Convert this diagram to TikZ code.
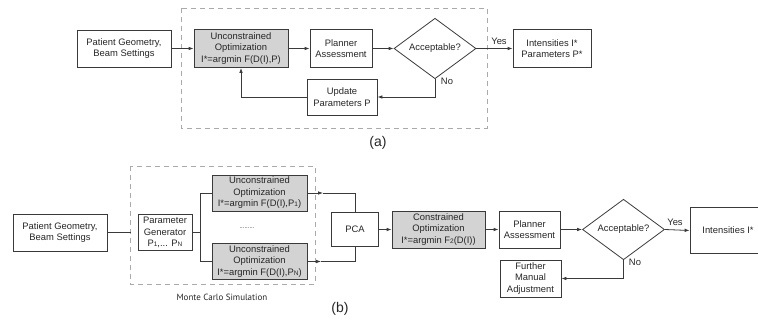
\documentclass[tikz,border=0pt]{standalone}
\usepackage{fontspec}
\setmainfont{Liberation Sans}
\newfontfamily\mcfont{PT Sans}
\usetikzlibrary{arrows.meta,shapes.geometric}
\definecolor{linec}{HTML}{3A3A3A}
\definecolor{boxfill}{HTML}{D3D3D3}
\definecolor{dashc}{HTML}{AAAAAA}
\newcommand\smsub[1]{{\fontsize{6.5}{6.5}\selectfont #1}}
\begin{document}
\begin{tikzpicture}[x=1pt,y=-1pt,
  font=\fontsize{9.4}{11.5}\selectfont,
  box/.style={draw=linec, line width=0.8pt, inner sep=0pt, align=center, text=black!85},
  gbox/.style={box, fill=boxfill},
  dia/.style={draw=linec, line width=0.8pt, diamond, inner sep=0pt, minimum width=82pt, minimum height=50pt, text=black!85},
  conn/.style={draw=linec, line width=0.8pt},
  arr/.style={conn, -{Latex[length=5pt,width=3.6pt]}},
  dashbox/.style={draw=dashc, line width=0.8pt, dash pattern=on 5pt off 4pt},
  lbl/.style={inner sep=0pt, text=black!85},
  captxt/.style={inner sep=0pt, font=\fontsize{14}{16}\selectfont, text=black!85}]
\useasboundingbox (0,0) rectangle (758,321);
\clip (0,0) rectangle (758,321);

% ---------------- (a) ----------------
\draw[dashbox] (181,8) rectangle (487,128);
\node[box, minimum width=94pt, minimum height=37pt] (pa) at (124,48.5) {Patient Geometry,\\Beam Settings};
\node[gbox, minimum width=94pt, minimum height=38pt] (ua) at (241,48.5) {Unconstrained\\Optimization\\I*=argmin F(D(I),P)};
\node[box, minimum width=62pt, minimum height=38pt] (pla) at (341,48.5) {Planner\\Assessment};
\node[dia] (da) at (435,48.5) {Acceptable?};
\node[box, minimum width=78pt, minimum height=38pt] (ia) at (552,48.5) {Intensities I*\\Parameters P*};
\node[box, minimum width=70pt, minimum height=36pt] (upa) at (342,97) {Update\\Parameters P};
\node[lbl] (yesa) at (499,41) {Yes};
\node[lbl] (noa) at (447,81) {No};
\node[captxt] (capa) at (378,143) {(a)};

\draw[arr] (pa.east) -- (ua.west);
\draw[arr] (ua.east) -- (pla.west);
\draw[arr] (pla.east) -- (da.west);
\draw[arr] (da.east) -- (ia.west);
\draw[arr] (da.south) |- (upa.east);
\draw[arr] (upa.west) -| (ua.south);

% ---------------- (b) ----------------
\draw[dashbox] (130,166) rectangle (315,284);
\node[box, minimum width=94pt, minimum height=37pt] (pb) at (60,232.5) {Patient Geometry,\\Beam Settings};
\node[box, minimum width=54pt, minimum height=36pt] (pg) at (165,232.5) {Parameter\\Generator\\P\smsub{1},... P\smsub{N}};
\node[gbox, minimum width=95pt, minimum height=36pt] (t1) at (259.5,193) {Unconstrained\\Optimization\\I*=argmin F(D(I),P\smsub{1})};
\node[gbox, minimum width=95pt, minimum height=36pt] (t2) at (259.5,261.5) {Unconstrained\\Optimization\\I*=argmin F(D(I),P\smsub{N})};
\node[lbl] (dots) at (247,228) {\fontsize{6}{6}\selectfont .........};
\node[lbl, font=\mcfont\fontsize{9}{10}\selectfont] (mc) at (222,297) {Monte Carlo Simulation};
\node[box, minimum width=47pt, minimum height=34pt] (pca) at (355,229.5) {PCA};
\node[gbox, minimum width=93pt, minimum height=37pt] (co) at (438.5,229.5) {Constrained\\Optimization\\I*=argmin F\smsub{2}(D(I))};
\node[box, minimum width=61pt, minimum height=37pt] (plb) at (529.5,229.5) {Planner\\Assessment};
\node[dia] (db) at (623.5,229.5) {Acceptable?};
\node[box, minimum width=76pt, minimum height=46pt] (ib) at (728,230.5) {Intensities I*};
\node[box, minimum width=61pt, minimum height=37pt] (fm) at (530.5,278.5) {Further\\Manual\\Adjustment};
\node[lbl] (yesb) at (675,222) {Yes};
\node[lbl] (nob) at (635,262) {No};
\node[captxt] (capb) at (340,309) {(b)};

\coordinate (pbend) at (131,232.5);
\coordinate (br) at (200,232.5);
\coordinate (m1) at (323,193);
\coordinate (m2) at (321,261.5);

\draw[conn] (pb.east) -- (pbend);
\draw[conn] (pg.east) -- (br);
\draw[conn] (t1.west) -- (t1.west -| br) -- (t2.west -| br) -- (t2.west);
\draw[arr] (t1.east) -- (m1);
\draw[conn] (m1) -| (pca.north);
\draw[arr] (t2.east) -- (m2);
\draw[conn] (m2) -| (pca.south);
\draw[arr] (pca.east) -- (co.west);
\draw[arr] (co.east) -- (plb.west);
\draw[arr] (plb.east) -- (db.west);
\draw[arr] (db.east) -- (ib.west);
\draw[arr] (db.south) |- (fm.east);
\end{tikzpicture}
\end{document}
